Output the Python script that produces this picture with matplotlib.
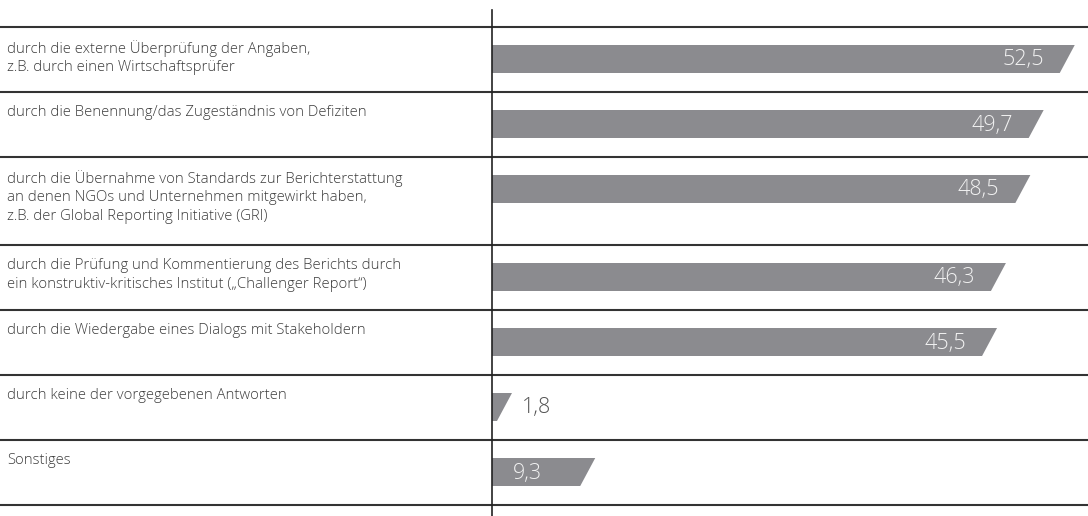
import matplotlib
matplotlib.use("Agg")
import matplotlib.pyplot as plt
from matplotlib.patches import Polygon

labels = [
    "durch die externe Überprüfung der Angaben,\nz.B. durch einen Wirtschaftsprüfer",
    "durch die Benennung/das Zugeständnis von Defiziten",
    "durch die Übernahme von Standards zur Berichterstattung\nan denen NGOs und Unternehmen mitgewirkt haben,\nz.B. der Global Reporting Initiative (GRI)",
    "durch die Prüfung und Kommentierung des Berichts durch\nein konstruktiv-kritisches Institut („Challenger Report“)",
    "durch die Wiedergabe eines Dialogs mit Stakeholdern",
    "durch keine der vorgegebenen Antworten",
    "Sonstiges",
]
values = [52.5, 49.7, 48.5, 46.3, 45.5, 1.8, 9.3]
value_labels = ["52,5", "49,7", "48,5", "46,3", "45,5", "1,8", "9,3"]

W, H = 1088, 516
PX = 11.1          # pixels per percentage point
X0 = 492           # pixel position of zero line
fig = plt.figure(figsize=(W / 100, H / 100), dpi=100)
ax = fig.add_axes([0, 0, 1, 1])
ax.set_xlim(-X0 / PX, (W - X0) / PX)
ax.set_ylim(H, 0)
ax.axis("off")

FONT = "Open Sans"
BAR = "#8b8b8f"
LINE = "#333333"
slant = 15 / PX

y = 27
ax.plot([ax.get_xlim()[0], ax.get_xlim()[1]], [y, y], color=LINE, lw=1.5, solid_capstyle="butt")
for lab, v, vl in zip(labels, values, value_labels):
    n = lab.count("\n") + 1
    h = 65 + 23 * max(0, n - 2)
    ax.text(-X0 / PX + 7 / PX, y + 13, lab, ha="left", va="top", fontsize=10.7,
            family=FONT, color="#3c3c3c", linespacing=1.32, fontweight="light")
    b0, b1 = y + 18, y + 46
    poly = Polygon([(0, b0), (v, b0), (v - slant, b1), (0, b1)], closed=True,
                   facecolor=BAR, edgecolor="none")
    ax.add_patch(poly)
    ym = (b0 + b1) / 2
    if v < 5:
        ax.text(v + 10 / PX, ym + 1, vl, ha="left", va="center", fontsize=15.5,
                family=FONT, color="#555555", fontweight="light")
    elif v < 15:
        ax.text(21 / PX, ym + 1, vl, ha="left", va="center", fontsize=15.5,
                family=FONT, color="#f2f2f2", fontweight="light")
    else:
        ax.text(v - 31 / PX, ym + 1, vl, ha="right", va="center", fontsize=15.5,
                family=FONT, color="#f2f2f2", fontweight="light")
    y += h
    ax.plot([ax.get_xlim()[0], ax.get_xlim()[1]], [y, y], color=LINE, lw=1.5, solid_capstyle="butt")

ax.plot([0, 0], [10, H], color="#222222", lw=1.2)

fig.savefig("out.png", dpi=100)
